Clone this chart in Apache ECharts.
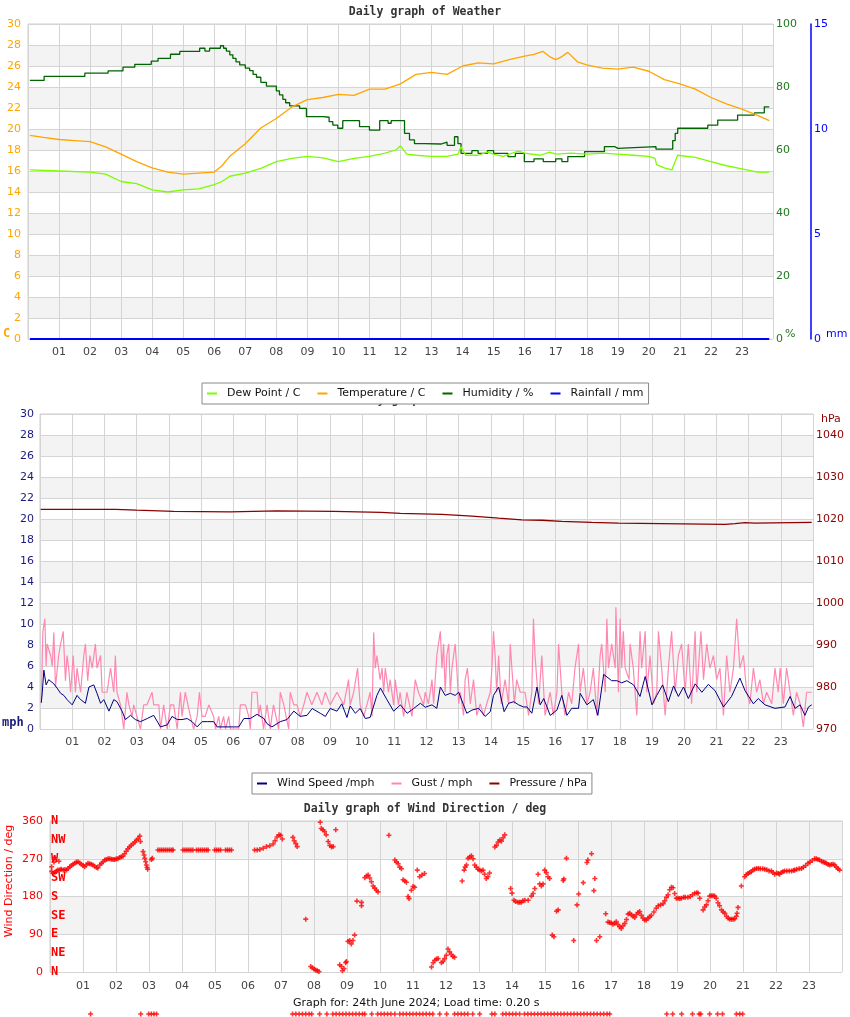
<!DOCTYPE html>
<html>
<head>
<meta charset="utf-8">
<script src="https://cdn.jsdelivr.net/npm/echarts@6/dist/echarts.min.js"></script>
<style>html,body{margin:0;padding:0;background:#fff}#c{width:850px;height:1017px}</style>
</head>
<body>
<div id="c"></div>
<script>
// ---------- tick labels ----------
const hourLabels = ['01','02','03','04','05','06','07','08','09','10','11','12','13','14','15','16','17','18','19','20','21','22','23'];
const compassLabels = ['N','NE','E','SE','S','SW','W','NW','N'];

// ---------- panel 1: weather [hour, value] ----------
const temperature = [[0.06,19.4],[0.5,19.2],[1,19.0],[1.5,18.9],[2,18.8],[2.5,18.3],[3,17.6],[3.5,16.9],[4,16.3],[4.5,15.9],[5,15.7],[5.5,15.8],[6,15.9],[6.25,16.5],[6.5,17.4],[7,18.6],[7.5,20.1],[8,21.0],[8.5,22.1],[9,22.8],[9.5,23.0],[10,23.3],[10.5,23.2],[11,23.8],[11.5,23.8],[12,24.3],[12.5,25.2],[13,25.4],[13.5,25.2],[14,26.0],[14.5,26.3],[15,26.2],[15.5,26.6],[16,26.95],[16.3,27.1],[16.58,27.4],[16.8,26.9],[17,26.6],[17.2,26.9],[17.39,27.3],[17.7,26.4],[18,26.1],[18.5,25.8],[19,25.7],[19.5,25.9],[20,25.5],[20.5,24.7],[21,24.3],[21.5,23.8],[22,23.0],[22.5,22.4],[23,21.9],[23.5,21.3],[23.88,20.8]];
const dewPoint = [[0.06,16.1],[1,16.0],[2,15.9],[2.5,15.7],[3,15.0],[3.5,14.8],[4,14.2],[4.5,14.0],[5,14.2],[5.5,14.3],[6,14.7],[6.25,15.0],[6.5,15.5],[7,15.8],[7.5,16.25],[8,16.9],[8.5,17.2],[9,17.4],[9.5,17.25],[10,16.9],[10.5,17.2],[11,17.4],[11.5,17.7],[11.85,18.0],[12,18.4],[12.2,17.6],[12.5,17.5],[13,17.4],[13.5,17.4],[13.85,17.6],[13.95,18.3],[14.1,17.5],[14.5,17.5],[14.8,17.8],[15,17.6],[15.3,17.4],[15.5,17.6],[15.8,17.9],[16,17.7],[16.5,17.5],[16.8,17.8],[17,17.6],[17.5,17.7],[18,17.6],[18.5,17.7],[19,17.6],[19.5,17.5],[20,17.4],[20.2,17.2],[20.25,16.6],[20.5,16.3],[20.74,16.1],[20.93,17.5],[21.5,17.3],[22,16.9],[22.5,16.5],[23,16.2],[23.5,15.9],[23.88,15.9]];
const humidity = [[0.06,82.1],[0.52,83.4],[1.83,84.4],[2.58,85.1],[3.06,86.3],[3.44,87.2],[3.97,88.2],[4.19,89.1],[4.59,90.4],[4.89,91.3],[5.53,92.3],[5.7,91.4],[5.85,92.3],[6.2,93.1],[6.3,92.3],[6.39,91.4],[6.5,90.2],[6.6,89.1],[6.7,88.0],[6.82,87.0],[7.0,86.0],[7.14,85.2],[7.25,84.0],[7.36,83.1],[7.5,81.5],[7.68,80.3],[8.0,78.8],[8.1,77.5],[8.21,76.1],[8.3,75.0],[8.43,74.0],[8.75,73.2],[8.97,70.6],[9.5,70.4],[9.7,69.0],[9.82,67.9],[9.98,66.9],[10.14,69.3],[10.68,67.4],[11.0,66.3],[11.33,69.3],[11.6,68.5],[11.7,69.3],[12.13,65.3],[12.29,63.2],[12.45,62.0],[12.77,61.9],[13.3,62.5],[13.5,61.5],[13.74,64.2],[13.85,62.0],[13.95,58.9],[14.3,59.8],[14.5,58.9],[14.8,59.8],[15.0,58.9],[15.46,57.9],[15.7,58.9],[15.99,56.3],[16.3,57.2],[16.6,56.3],[17.0,57.2],[17.2,56.3],[17.39,57.9],[17.93,59.5],[18.57,61.1],[18.9,60.5],[19.0,61.1],[20.23,60.3],[20.77,63.0],[20.85,65.3],[20.93,66.9],[21.25,67.5],[21.3,66.9],[21.9,67.9],[22.22,69.5],[22.86,71.1],[23.4,71.8],[23.72,73.7],[23.88,73.7]];
const rainfall = [[0.06,0],[23.88,0]];

// ---------- panel 2: wind & pressure [hour, value] ----------
const pressure = [[0.02,1022.3],[2.34,1022.1],[3.0,1021.8],[4.15,1021.7],[5.9,1021.95],[7.36,1021.8],[9.12,1021.6],[10.6,1021.35],[11.19,1021.1],[12.48,1020.7],[13.41,1020.4],[13.93,1020.2],[14.24,1019.8],[14.96,1019.7],[15.58,1019.45],[16.2,1019.2],[17.13,1019.0],[17.96,1018.7],[21.27,1018.9],[21.58,1019.15],[21.89,1019.0],[22.2,1019.2],[23.96,1019.2]];
const windSpeed = [[0.04,2.5],[0.07,3.45],[0.12,5.6],[0.19,4.2],[0.27,4.7],[0.33,4.8],[0.43,4.3],[0.53,3.9],[0.64,3.4],[0.74,3.2],[0.84,2.8],[1.0,2.3],[1.15,3.2],[1.26,2.8],[1.41,2.45],[1.52,4.0],[1.67,4.2],[1.77,3.4],[1.88,2.45],[1.98,2.8],[2.14,1.7],[2.29,2.8],[2.39,2.6],[2.55,1.7],[2.65,0.9],[2.81,1.3],[2.96,0.9],[3.12,0.7],[3.33,1.0],[3.53,1.3],[3.74,0.2],[3.95,0.4],[4.1,1.2],[4.26,0.9],[4.41,0.9],[4.57,1.0],[4.72,0.7],[4.88,0.2],[5.03,0.7],[5.19,0.7],[5.39,0.7],[5.5,0.2],[6.01,0.2],[6.17,0.2],[6.33,1.0],[6.53,1.0],[6.74,1.4],[6.95,1.0],[7.05,0.5],[7.2,0.2],[7.46,0.7],[7.67,0.9],[7.88,1.7],[8.08,1.2],[8.29,1.3],[8.45,1.95],[8.7,1.5],[8.86,1.2],[9.01,1.95],[9.22,1.7],[9.37,2.4],[9.53,1.1],[9.63,2.2],[9.79,1.5],[9.94,1.95],[10.1,1.0],[10.25,1.1],[10.46,3.2],[10.57,3.9],[10.77,2.8],[10.98,1.7],[11.19,2.3],[11.4,1.5],[11.6,1.95],[11.81,2.45],[11.96,2.07],[12.17,2.3],[12.32,1.97],[12.43,4.0],[12.58,3.2],[12.74,3.4],[12.89,3.2],[13.0,3.5],[13.15,2.3],[13.25,1.5],[13.41,1.8],[13.62,1.97],[13.82,1.2],[13.98,1.65],[14.08,3.2],[14.24,4.0],[14.41,1.65],[14.55,2.45],[14.71,2.6],[14.86,2.3],[15.01,2.1],[15.12,2.1],[15.27,1.5],[15.43,4.0],[15.53,2.3],[15.64,2.9],[15.84,1.3],[16.05,1.8],[16.2,3.2],[16.36,1.3],[16.51,1.97],[16.72,1.97],[16.77,3.4],[16.98,2.3],[17.18,2.8],[17.32,1.3],[17.5,5.2],[17.75,4.6],[17.91,4.6],[18.06,4.4],[18.22,4.6],[18.43,4.2],[18.63,3.1],[18.79,5.0],[19.0,2.3],[19.15,3.2],[19.33,4.2],[19.51,2.6],[19.67,4.1],[19.82,3.1],[19.98,4.0],[20.13,2.9],[20.34,4.3],[20.55,3.5],[20.75,4.25],[20.96,3.65],[21.22,2.1],[21.47,3.1],[21.73,4.85],[21.89,3.65],[22.15,2.4],[22.3,2.9],[22.51,2.3],[22.82,1.97],[23.13,2.1],[23.29,3.1],[23.44,1.97],[23.6,2.3],[23.75,1.3],[23.86,2.1],[23.96,2.3]];
const windGust = [[0.04,2.5],[0.09,9.3],[0.15,10.5],[0.19,6.0],[0.22,8.1],[0.33,7.0],[0.38,6.0],[0.43,9.2],[0.48,4.0],[0.58,7.0],[0.64,8.1],[0.72,9.3],[0.79,4.6],[0.84,7.0],[0.89,5.8],[0.95,3.5],[1.03,7.0],[1.10,3.5],[1.15,5.8],[1.26,3.5],[1.36,7.0],[1.41,8.1],[1.48,4.6],[1.55,7.0],[1.62,5.8],[1.72,8.1],[1.77,5.8],[1.88,7.0],[1.93,3.5],[2.08,3.5],[2.19,5.8],[2.29,3.5],[2.34,7.0],[2.39,3.5],[2.50,2.3],[2.60,0],[2.70,3.5],[2.76,2.3],[2.86,1.2],[2.91,2.3],[3.01,1.2],[3.12,0],[3.22,2.3],[3.32,2.3],[3.48,3.5],[3.53,2.3],[3.69,2.3],[3.74,0],[3.84,2.3],[3.95,0],[4.05,2.3],[4.15,2.3],[4.26,0],[4.36,3.5],[4.41,1.2],[4.51,3.5],[4.67,1.2],[4.77,0],[4.88,1.2],[4.95,3.5],[5.03,1.2],[5.13,1.2],[5.24,2.3],[5.39,1.2],[5.45,0],[5.55,1.2],[5.60,0],[5.70,1.2],[5.76,0],[5.86,1.2],[5.91,0],[6.17,0],[6.22,2.3],[6.38,2.3],[6.48,1.2],[6.53,0],[6.58,3.5],[6.74,3.5],[6.79,1.2],[6.84,2.3],[6.94,0],[7.05,2.3],[7.15,0],[7.20,1.2],[7.25,2.3],[7.41,0],[7.46,3.5],[7.57,2.3],[7.72,0],[7.77,3.5],[7.88,2.3],[7.98,2.3],[8.08,1.2],[8.19,2.3],[8.29,3.5],[8.44,2.3],[8.60,3.5],[8.75,2.3],[8.86,3.5],[9.01,2.3],[9.22,3.5],[9.43,2.3],[9.58,4.7],[9.63,2.3],[9.74,3.5],[9.86,5.8],[9.94,2.3],[10.05,1.2],[10.15,2.3],[10.25,3.5],[10.31,1.2],[10.36,9.2],[10.41,5.8],[10.46,7.0],[10.56,4.7],[10.62,5.8],[10.67,3.5],[10.72,5.8],[10.82,3.5],[10.87,4.7],[10.98,2.3],[11.03,4.7],[11.13,2.3],[11.18,3.5],[11.29,1.2],[11.39,3.5],[11.55,1.2],[11.65,4.7],[11.75,3.5],[11.91,2.3],[11.96,3.5],[12.06,2.4],[12.17,4.7],[12.22,2.4],[12.32,7.0],[12.37,8.1],[12.43,9.3],[12.48,5.8],[12.53,8.1],[12.58,3.5],[12.63,7.0],[12.69,8.1],[12.74,3.5],[12.79,5.8],[12.89,8.1],[12.94,5.8],[13.0,2.4],[13.05,3.5],[13.15,1.3],[13.20,4.7],[13.27,5.8],[13.36,2.4],[13.46,4.7],[13.56,1.3],[13.67,2.4],[13.77,1.3],[13.87,2.4],[13.98,3.5],[14.03,5.8],[14.08,9.3],[14.13,7.0],[14.18,3.5],[14.24,7.0],[14.32,2.4],[14.44,4.7],[14.55,2.4],[14.60,8.1],[14.65,5.8],[14.73,2.4],[14.80,4.7],[14.91,3.5],[15.06,3.5],[15.17,1.3],[15.27,3.5],[15.32,10.5],[15.37,7.0],[15.48,2.4],[15.53,4.7],[15.58,7.0],[15.68,1.3],[15.84,3.5],[15.94,1.3],[16.05,3.5],[16.10,8.1],[16.15,5.8],[16.20,3.5],[16.30,1.3],[16.41,3.5],[16.51,2.4],[16.61,5.8],[16.72,8.1],[16.77,3.5],[16.87,5.8],[16.98,2.4],[17.08,3.5],[17.18,5.8],[17.29,1.3],[17.39,7.0],[17.44,8.1],[17.55,3.5],[17.60,10.5],[17.65,5.8],[17.75,8.1],[17.86,5.8],[17.88,11.6],[17.96,3.5],[18.01,10.5],[18.06,5.8],[18.11,9.3],[18.17,5.8],[18.29,4.7],[18.32,8.1],[18.42,5.8],[18.53,1.3],[18.63,9.3],[18.68,5.8],[18.79,9.3],[18.84,3.5],[18.94,7.0],[19.05,2.4],[19.15,3.5],[19.20,9.3],[19.30,5.8],[19.41,1.3],[19.51,5.8],[19.61,9.3],[19.72,3.5],[19.82,7.0],[19.92,8.1],[20.03,3.5],[20.13,8.1],[20.23,2.4],[20.34,9.3],[20.39,3.5],[20.52,9.3],[20.60,4.7],[20.70,8.1],[20.80,5.8],[20.91,7.0],[21.01,4.7],[21.11,5.8],[21.22,1.3],[21.32,7.0],[21.42,3.5],[21.53,5.8],[21.63,10.5],[21.73,5.8],[21.84,7.0],[21.94,3.5],[22.04,2.4],[22.15,5.8],[22.25,3.5],[22.35,4.7],[22.46,2.4],[22.56,3.5],[22.72,2.4],[22.82,5.8],[22.92,3.5],[22.98,5.8],[23.08,2.4],[23.18,5.8],[23.29,3.5],[23.39,1.3],[23.49,3.5],[23.60,2.4],[23.70,0.2],[23.80,3.5],[23.96,3.5]];

// ---------- panel 3: wind direction [hour, degrees] ----------
const windDirection = [[0.05,240],[0.05,251],[0.09,235],[0.12,262],[0.14,273],[0.15,238],[0.2,241],[0.24,243],[0.27,264],[0.3,244],[0.34,245],[0.4,243],[0.45,244],[0.5,243],[0.55,247],[0.6,251],[0.65,254],[0.7,257],[0.75,259],[0.8,262],[0.85,263],[0.9,260],[0.95,257],[1.0,254],[1.05,251],[1.1,255],[1.15,259],[1.2,258],[1.25,257],[1.3,255],[1.35,252],[1.41,249],[1.45,248],[1.51,255],[1.56,259],[1.61,263],[1.66,267],[1.71,268],[1.76,270],[1.81,270],[1.86,269],[1.91,268],[1.96,268],[2.01,270],[2.06,270],[2.11,273],[2.16,275],[2.21,276],[2.26,282],[2.31,288],[2.36,294],[2.41,298],[2.46,302],[2.52,306],[2.57,310],[2.62,314],[2.67,318],[2.72,324],[2.74,311],[2.82,287],[2.85,279],[2.87,271],[2.9,263],[2.92,255],[2.94,249],[2.96,245],[3.07,268],[3.10,271],
[3.27,291],[3.33,291],[3.39,291],[3.45,291],[3.51,291],[3.57,291],[3.63,291],[3.69,291],[3.73,291],
[4.03,291],[4.09,291],[4.15,291],[4.21,291],[4.27,291],[4.33,291],
[4.44,291],[4.5,291],[4.56,291],[4.62,291],[4.68,291],[4.74,291],[4.79,291],
[4.99,291],[5.05,291],[5.11,291],[5.17,291],
[5.32,291],[5.38,291],[5.44,291],[5.5,291],
[6.2,291],[6.28,291],[6.36,292],[6.46,295],[6.56,299],[6.66,301],[6.76,305],[6.82,313],[6.88,322],[6.94,327],[6.99,326],[7.04,317],
[7.36,321],[7.4,313],[7.45,306],[7.49,299],[7.75,126],
[7.9,13],[7.95,10],[8.0,7],[8.05,5],[8.1,3],[8.15,1],
[8.19,357],[8.22,342],[8.27,339],[8.32,335],[8.37,327],[8.43,311],[8.48,302],[8.53,298],[8.58,299],[8.66,339],
[8.78,17],[8.83,13],[8.86,3],[8.91,8],[8.96,22],[8.98,25],
[9.03,73],[9.08,75],[9.13,67],[9.18,75],[9.23,88],[9.3,169],[9.44,166],[9.44,158],
[9.54,225],[9.59,229],[9.64,231],[9.69,224],[9.74,215],[9.79,205],[9.84,200],[9.89,195],[9.94,191],
[10.27,326],[10.45,267],[10.5,262],[10.55,258],[10.6,250],[10.65,246],[10.7,220],[10.75,217],[10.8,214],[10.85,180],[10.88,175],[10.95,195],[11.0,204],[11.05,202],[11.13,243],[11.2,227],[11.27,231],[11.35,235],
[11.56,12],[11.61,22],[11.66,28],[11.71,31],[11.76,32],[11.86,22],[11.91,25],[11.96,32],[12.01,40],[12.06,55],[12.11,48],[12.16,42],[12.21,37],[12.26,35],
[12.49,217],[12.55,243],[12.58,250],[12.62,255],[12.67,271],[12.72,274],[12.77,277],[12.82,270],[12.87,255],[12.92,250],[12.97,245],[13.02,243],[13.07,241],[13.12,243],[13.17,233],[13.22,223],[13.27,227],[13.32,236],
[13.48,298],[13.53,302],[13.58,310],[13.63,315],[13.68,312],[13.73,320],[13.78,327],
[13.96,199],[14.0,188],[14.06,171],[14.11,168],[14.18,166],[14.23,166],[14.28,166],[14.33,170],[14.39,171],[14.49,171],[14.59,181],[14.64,187],[14.69,199],[14.79,233],[14.84,210],[14.89,205],[14.94,210],[14.99,243],[15.04,237],[15.09,227],[15.14,223],
[15.22,88],[15.27,84],[15.35,145],[15.4,148],[15.55,218],[15.57,222],[15.65,271],[15.87,75],[15.97,160],[16.02,186],[16.16,213],[16.27,261],[16.3,267],[16.41,282],[16.48,194],[16.51,223],[16.56,75],[16.66,84],[16.84,139],
[16.91,119],[16.96,118],[17.01,117],[17.06,114],[17.11,116],[17.16,120],[17.21,113],[17.26,108],[17.31,104],[17.36,110],[17.42,116],[17.47,125],[17.52,138],[17.57,140],[17.62,136],[17.67,133],[17.72,130],[17.77,137],[17.82,142],[17.87,144],[17.92,135],[17.97,128],[18.02,124],[18.07,124],[18.12,128],[18.17,131],[18.22,135],[18.3,143],[18.37,152],[18.43,158],[18.5,160],[18.58,163],[18.63,170],[18.68,178],[18.73,184],[18.78,196],[18.83,202],[18.88,201],[18.93,187],[18.98,176],[19.03,176],[19.08,175],[19.13,176],[19.2,178],[19.25,178],[19.33,178],[19.4,180],[19.47,184],[19.54,188],[19.6,189],[19.64,188],[19.69,176],[19.79,148],[19.84,155],[19.89,160],[19.94,170],[19.99,181],[20.04,182],[20.09,182],[20.14,181],[20.19,176],[20.24,165],[20.29,158],[20.35,148],[20.4,143],[20.45,140],[20.5,133],[20.55,128],[20.6,126],[20.65,126],[20.7,126],[20.75,127],[20.8,133],[20.82,140],[20.85,154],
[20.95,205],[21.05,227],[21.1,232],[21.15,235],[21.2,237],[21.25,239],[21.3,243],[21.35,245],[21.41,247],[21.47,247],[21.53,246],[21.6,246],[21.66,245],[21.72,244],[21.79,241],[21.86,241],[21.91,237],[21.96,233],[22.02,236],[22.07,235],[22.11,233],[22.16,237],[22.21,239],[22.26,241],[22.33,241],[22.4,241],[22.47,241],[22.53,242],[22.57,243],[22.63,245],[22.7,246],[22.77,247],[22.83,250],[22.9,254],[22.97,259],[23.03,262],[23.1,266],[23.17,270],[23.22,270],[23.27,268],[23.32,267],[23.38,264],[23.43,262],[23.48,261],[23.53,259],[23.58,256],[23.63,255],[23.68,256],[23.73,257],[23.78,255],[23.83,250],[23.88,246],[23.93,243]];
// calm readings drawn below the direction plot
const calmValue = -100;
const calmTimes = [1.23,2.75,2.99,3.07,3.15,3.23,7.35,7.45,7.55,7.65,7.75,7.85,7.93,8.17,8.39,8.57,8.67,8.77,8.87,8.97,9.07,9.17,9.27,9.37,9.47,9.54,9.75,9.93,10.03,10.13,10.23,10.33,10.45,10.6,10.7,10.8,10.9,11.0,11.1,11.2,11.3,11.4,11.5,11.6,11.81,12.02,12.26,12.36,12.46,12.56,12.66,12.81,13.02,13.39,13.48,13.72,13.82,13.92,14.02,14.12,14.23,14.38,14.48,14.58,14.68,14.78,14.88,14.98,15.08,15.18,15.28,15.38,15.48,15.58,15.68,15.78,15.88,15.98,16.08,16.18,16.28,16.38,16.48,16.58,16.68,16.78,16.88,16.96,18.69,18.87,19.14,19.47,19.67,19.72,19.99,20.23,20.38,20.8,20.9,20.99];

// ---------- chart ----------
const FONT = 'DejaVu Sans';
const MONO = 'DejaVu Sans Mono';
const GRIDC = '#d4d4d4';
const BANDS = ['#ffffff', '#f3f3f3'];

function xAxisFor(gridIndex, margin) {
  return {
    type: 'value', gridIndex: gridIndex, min: 0, max: 24, interval: 1,
    axisLine: {show: false}, axisTick: {show: false},
    splitLine: {show: true, lineStyle: {color: GRIDC, width: 1}},
    axisLabel: {color: '#444', fontSize: 11, fontFamily: FONT, margin: margin,
      formatter: function (v) { return hourLabels[v - 1] || ''; }}
  };
}
function yAxisFor(o) {
  return Object.assign({
    type: 'value', axisTick: {show: false}, axisLine: {show: false},
    splitLine: {show: false}
  }, o);
}
const plus = 'path://M1.7,0L3.3,0L3.3,5L1.7,5ZM0,1.7L5,1.7L5,3.3L0,3.3Z';

const chart = echarts.init(document.getElementById('c'), null, {renderer: 'canvas'});
chart.setOption({
  animation: false,
  backgroundColor: '#fff',
  title: [
    {text: 'Daily graph of Weather', left: 'center', top: 6, padding: 0,
     textStyle: {fontFamily: MONO, fontWeight: 'bold', fontSize: 11.5, color: '#333'}},
    {text: 'Daily graph of Wind', left: 350, top: 394, padding: 0,
     textStyle: {fontFamily: MONO, fontWeight: 'bold', fontSize: 11.5, color: '#333'}},
    {text: 'Daily graph of Wind Direction / deg', left: 'center', top: 803, padding: 0,
     textStyle: {fontFamily: MONO, fontWeight: 'bold', fontSize: 11.5, color: '#333'}},
    {text: 'Graph for: 24th June 2024; Load time: 0.20 s', left: 293, top: 998, padding: 0,
     textStyle: {fontFamily: FONT, fontWeight: 'normal', fontSize: 11, color: '#111'}}
  ],
  legend: [
    {data: ['Dew Point / C', 'Temperature / C', 'Humidity / %', 'Rainfall / mm'],
     left: 202, top: 383, z: 20, icon: 'rect', itemWidth: 10, itemHeight: 2, itemGap: 17,
     padding: [5, 5, 5, 5], borderColor: '#888', borderWidth: 1, backgroundColor: '#fff',
     textStyle: {fontSize: 11, fontFamily: FONT, color: '#111', padding: [0, 0, 0, 5]}},
    {data: ['Wind Speed /mph', 'Gust / mph', 'Pressure / hPa'],
     left: 252, top: 773, z: 20, icon: 'rect', itemWidth: 10, itemHeight: 2, itemGap: 17,
     padding: [5, 5, 5, 5], borderColor: '#888', borderWidth: 1, backgroundColor: '#fff',
     textStyle: {fontSize: 11, fontFamily: FONT, color: '#111', padding: [0, 0, 0, 5]}}
  ],
  grid: [
    {left: 28, right: 77, top: 24, height: 315, show: true, borderColor: '#cfcfcf', borderWidth: 1, backgroundColor: 'transparent'},
    {left: 40, right: 37, top: 414, height: 315, show: true, borderColor: '#cfcfcf', borderWidth: 1},
    {left: 50, right: 8, top: 821, height: 151, show: true, borderColor: '#cfcfcf', borderWidth: 1}
  ],
  xAxis: [xAxisFor(0, 8), xAxisFor(1, 8), xAxisFor(2, 9)],
  yAxis: [
    // 0: temperature
    yAxisFor({gridIndex: 0, min: 0, max: 30, interval: 2, position: 'left',
      splitLine: {show: true, lineStyle: {color: GRIDC}},
      splitArea: {show: true, areaStyle: {color: BANDS}},
      axisLabel: {color: '#ffa500', fontSize: 11, fontFamily: FONT, margin: 7}}),
    // 1: humidity
    yAxisFor({gridIndex: 0, min: 0, max: 100, interval: 20, position: 'right',
      axisLabel: {color: '#1e7b1e', fontSize: 11, fontFamily: FONT, margin: 3}}),
    // 2: rainfall
    yAxisFor({gridIndex: 0, min: 0, max: 15, interval: 5, position: 'right', offset: 38,
      axisLine: {show: true, lineStyle: {color: '#0000ff', width: 1.5}},
      axisLabel: {color: '#0000ff', fontSize: 11, fontFamily: FONT, margin: 3}}),
    // 3: wind speed
    yAxisFor({gridIndex: 1, min: 0, max: 30, interval: 2, position: 'left',
      splitLine: {show: true, lineStyle: {color: GRIDC}},
      splitArea: {show: true, areaStyle: {color: BANDS}},
      axisLabel: {color: '#1a1a80', fontSize: 11, fontFamily: FONT, margin: 6}}),
    // 4: pressure
    yAxisFor({gridIndex: 1, min: 970, max: 1045, interval: 10, position: 'right',
      axisLabel: {color: '#8b0000', fontSize: 11, fontFamily: FONT, margin: 3,
        formatter: function (v) { return v % 10 === 0 ? String(v) : ''; }}}),
    // 5: wind direction degrees
    yAxisFor({gridIndex: 2, min: 0, max: 360, interval: 90, position: 'left',
      splitLine: {show: true, lineStyle: {color: GRIDC}},
      splitArea: {show: true, areaStyle: {color: BANDS}},
      axisLabel: {color: '#ff0000', fontSize: 11, fontFamily: FONT, margin: 7}}),
    // 6: compass points
    yAxisFor({gridIndex: 2, min: 0, max: 360, interval: 45, position: 'left',
      axisLabel: {inside: true, margin: 1, color: '#ff0000', fontSize: 12, fontWeight: 'bold',
        fontFamily: MONO, verticalAlign: 'middle', padding: [0, 0, 7, 0],
        formatter: function (v) { return compassLabels[v / 45] || ''; }}})
  ],
  graphic: [
    {type: 'text', x: 3, y: 333.5, style: {text: 'C', fill: '#ffa500', fontSize: 12, fontWeight: 'bold', fontFamily: MONO, verticalAlign: 'middle'}},
    {type: 'text', x: 785, y: 334, style: {text: '%', fill: '#1e7b1e', fontSize: 11, fontFamily: FONT, verticalAlign: 'middle'}},
    {type: 'text', x: 826, y: 334, style: {text: 'mm', fill: '#0000ff', fontSize: 11, fontFamily: FONT, verticalAlign: 'middle'}},
    {type: 'text', x: 821, y: 419, style: {text: 'hPa', fill: '#8b0000', fontSize: 11, fontFamily: FONT, verticalAlign: 'middle'}},
    {type: 'text', x: 2, y: 723, style: {text: 'mph', fill: '#1a1a80', fontSize: 12, fontWeight: 'bold', fontFamily: MONO, verticalAlign: 'middle'}},
    {type: 'text', x: 9, y: 881, rotation: Math.PI / 2, style: {text: 'Wind Direction / deg', fill: '#ff0000', fontSize: 11, fontFamily: FONT, align: 'center', verticalAlign: 'middle'}}
  ],
  series: [
    {name: 'Humidity / %', type: 'line', xAxisIndex: 0, yAxisIndex: 1, data: humidity, step: 'end',
     showSymbol: false, color: '#006400', lineStyle: {width: 1.3}},
    {name: 'Dew Point / C', type: 'line', xAxisIndex: 0, yAxisIndex: 0, data: dewPoint,
     showSymbol: false, color: '#7cfc00', lineStyle: {width: 1.3}},
    {name: 'Temperature / C', type: 'line', xAxisIndex: 0, yAxisIndex: 0, data: temperature,
     showSymbol: false, color: '#ffa500', lineStyle: {width: 1.3}},
    {name: 'Rainfall / mm', type: 'line', xAxisIndex: 0, yAxisIndex: 2, data: rainfall,
     showSymbol: false, color: '#0000ff', lineStyle: {width: 2}},
    {name: 'Gust / mph', type: 'line', xAxisIndex: 1, yAxisIndex: 3, data: windGust,
     showSymbol: false, color: '#ff88b0', lineStyle: {width: 1.2}},
    {name: 'Wind Speed /mph', type: 'line', xAxisIndex: 1, yAxisIndex: 3, data: windSpeed,
     showSymbol: false, color: '#000080', lineStyle: {width: 1}},
    {name: 'Pressure / hPa', type: 'line', xAxisIndex: 1, yAxisIndex: 4, data: pressure, step: 'end',
     showSymbol: false, color: '#8b0000', lineStyle: {width: 1.3}},
    {name: 'Wind Direction / deg', type: 'scatter', xAxisIndex: 2, yAxisIndex: 5, data: windDirection,
     symbol: plus, symbolSize: 5, itemStyle: {color: '#ff0000'}},
    {name: 'Calm', type: 'scatter', xAxisIndex: 2, yAxisIndex: 5, clip: false,
     data: calmTimes.map(function (t) { return [t, calmValue]; }),
     symbol: plus, symbolSize: 5, itemStyle: {color: '#ff0000'}}
  ]
});
</script>
</body>
</html>
